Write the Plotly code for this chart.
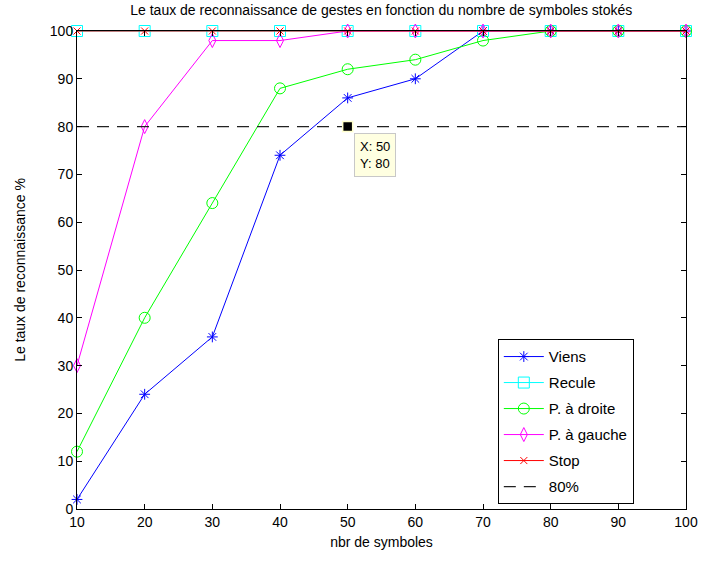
import plotly.graph_objects as go

x_vals = [10, 20, 30, 40, 50, 60, 70, 80, 90, 100]
viens = [2, 24, 36, 74, 86, 90, 100, 100, 100, 100]
recule = [100, 100, 100, 100, 100, 100, 100, 100, 100, 100]
p_droite = [12, 40, 64, 88, 92, 94, 98, 100, 100, 100]
p_gauche = [30, 80, 98, 98, 100, 100, 100, 100, 100, 100]
stop = [100, 100, 100, 100, 100, 100, 100, 100, 100, 100]
seuil = [80, 80]
seuil_x = [10, 100]
tip_x, tip_y = 50, 80

FONT = "Liberation Sans, Arial, sans-serif"

fig = go.Figure()
series = [
    ("Viens", viens, "#0000ff", "asterisk-open", 9),
    ("Recule", recule, "#00ffff", "square-open", 11),
    ("P. à droite", p_droite, "#00ff00", "circle-open", 11),
    ("P. à gauche", p_gauche, "#ff00ff", "diamond-tall-open", 10),
    ("Stop", stop, "#ff0000", "x-thin-open", 7),
]
for i, (name, ys, col, sym, sz) in enumerate(series):
    fig.add_trace(go.Scatter(
        x=x_vals, y=ys, name=name, mode="lines+markers", legendgroup=f"g{i}",
        line=dict(color=col, width=1),
        marker=dict(symbol=sym, size=sz, color=col, line=dict(color=col, width=1)),
        cliponaxis=False,
    ))
fig.add_trace(go.Scatter(
    x=seuil_x, y=seuil, name="80%", mode="lines", legendgroup="g9",
    line=dict(color="#222222", width=1.3, dash="12px,8px"),
))
fig.add_trace(go.Scatter(
    x=[tip_x], y=[tip_y], mode="markers", showlegend=False,
    marker=dict(symbol="square", size=10, color="black",
                line=dict(color="#ffffcc", width=1.5)),
    cliponaxis=False,
))
fig.add_annotation(
    x=tip_x, y=tip_y, xref="x", yref="y",
    text="X: 50<br>Y: 80", showarrow=False,
    xanchor="left", yanchor="top", xshift=6, yshift=-6,
    align="left", bgcolor="#ffffe1", bordercolor="#c8c8c8", borderwidth=1,
    borderpad=5, font=dict(family=FONT, size=13, color="black"),
)

axis_common = dict(
    showgrid=False, zeroline=False, showline=True, linecolor="black",
    linewidth=1, mirror="ticks", ticks="inside", ticklen=5, tickcolor="black",
    tickfont=dict(family=FONT, size=14, color="black"),
)
fig.update_layout(
    width=710, height=565,
    margin=dict(l=77, r=24, t=31, b=56),
    paper_bgcolor="white", plot_bgcolor="white",
    font=dict(family=FONT, size=14, color="black"),
    title=dict(text="Le taux de reconnaissance de gestes en fonction du nombre de symboles stokés",
               x=0.537, xanchor="center", y=0.99, yanchor="top",
               font=dict(family=FONT, size=14, color="black")),
    xaxis=dict(range=[10, 100], tickvals=x_vals,
               title=dict(text="nbr de symboles", standoff=8,
                          font=dict(family=FONT, size=14)),
               **axis_common),
    yaxis=dict(range=[0, 100], dtick=10,
               title=dict(text="Le taux de reconnaissance %", standoff=20,
                          font=dict(family=FONT, size=14)),
               **axis_common),
    legend=dict(x=0.691, y=0.355, xanchor="left", yanchor="top",
                bgcolor="white", bordercolor="black", borderwidth=1,
                font=dict(family=FONT, size=15, color="black"),
                traceorder="grouped", tracegroupgap=3.5, itemwidth=40),
    showlegend=True,
)
fig.write_html("out.html")
